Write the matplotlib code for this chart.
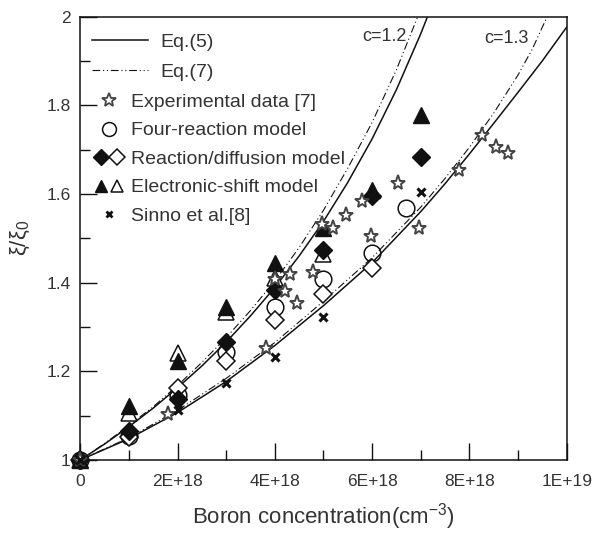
import matplotlib
matplotlib.use("Agg")
import matplotlib.pyplot as plt
from matplotlib.ticker import MultipleLocator, FuncFormatter
from matplotlib.legend_handler import HandlerTuple
from matplotlib.lines import Line2D

plt.rcParams['font.family'] = ['Liberation Sans', 'DejaVu Sans']
plt.rcParams['mathtext.default'] = 'regular'

E18 = 1e18
INK = '#111111'
TXT = '#333333'
STAR = '#444444'

# model curves (x in units of 1E18 cm^-3)
eq5_c12_x = [0, 0.5, 1, 1.5, 2, 2.5, 3, 3.5, 4, 4.5, 5, 5.5, 6, 6.5, 7, 7.14]
eq5_c12_y = [1.0, 1.036, 1.075, 1.117, 1.163, 1.212, 1.266, 1.325, 1.389, 1.460,
             1.538, 1.626, 1.724, 1.835, 1.961, 2.0]
eq7_c12_x = [0, 0.5, 1, 1.5, 2, 2.5, 3, 3.5, 4, 4.5, 5, 5.5, 6, 6.5, 6.94]
eq7_c12_y = [1.0, 1.037, 1.078, 1.120, 1.168, 1.220, 1.276, 1.337, 1.404, 1.479,
             1.563, 1.658, 1.761, 1.880, 2.0]
eq5_c13_x = [0, 1, 2, 3, 4, 5, 6, 7, 7.5, 8, 8.5, 9, 9.5, 10]
eq5_c13_y = [1.0, 1.048, 1.107, 1.177, 1.258, 1.348, 1.445, 1.560, 1.623, 1.690,
             1.759, 1.829, 1.900, 1.976]
eq7_c13_x = [0, 1, 2, 3, 4, 5, 6, 7, 7.5, 8, 8.5, 9, 9.3, 9.6]
eq7_c13_y = [1.0, 1.050, 1.112, 1.184, 1.265, 1.358, 1.456, 1.570, 1.635, 1.705,
             1.782, 1.868, 1.928, 2.0]

# experimental data [7]
exp_x = [0, 1.81, 3.81, 4.0, 4.2, 4.31, 4.46, 4.79, 4.96, 5.2, 5.47, 5.8, 5.97,
         6.53, 6.96, 7.78, 8.26, 8.54, 8.79]
exp_y = [1.0, 1.103, 1.253, 1.408, 1.381, 1.42, 1.353, 1.424, 1.533, 1.522, 1.552,
         1.584, 1.505, 1.625, 1.524, 1.654, 1.733, 1.706, 1.693]

# four-reaction model
four_x = [0, 1, 2, 3, 4, 5, 6, 6.69]
four_y = [1.0, 1.054, 1.146, 1.244, 1.345, 1.407, 1.466, 1.569]

# reaction/diffusion model (filled / open)
rd_fill_x = [0, 1, 2, 3, 4, 5, 6, 7]
rd_fill_y = [1.0, 1.066, 1.137, 1.266, 1.383, 1.474, 1.595, 1.683]
rd_open_x = [0, 1, 2, 3, 4, 5, 6]
rd_open_y = [1.0, 1.052, 1.162, 1.223, 1.315, 1.375, 1.432]

# electronic-shift model (filled / open)
es_fill_x = [0, 1, 2, 3, 4, 5, 6, 7]
es_fill_y = [1.0, 1.122, 1.223, 1.345, 1.444, 1.522, 1.608, 1.777]
es_open_x = [0, 1, 2, 3, 4, 5]
es_open_y = [1.0, 1.106, 1.242, 1.334, 1.41, 1.465]

# Sinno et al. [8]
sin_x = [0, 2, 3, 4, 5, 7]
sin_y = [1.0, 1.113, 1.174, 1.233, 1.323, 1.604]


def sc(v):
    return [a * E18 for a in v]


DASH = [7, 2.5, 1, 2.5, 1, 2.5]

fig = plt.figure(figsize=(5.99, 5.34), dpi=100)
ax = fig.add_axes([0.134, 0.1386, 0.812, 0.8305])

ax.plot(sc(eq5_c12_x), eq5_c12_y, '-', color=INK, lw=1.1)
ax.plot(sc(eq5_c13_x), eq5_c13_y, '-', color=INK, lw=1.1)
ax.plot(sc(eq7_c12_x), eq7_c12_y, color=INK, lw=0.8, dashes=DASH)
ax.plot(sc(eq7_c13_x), eq7_c13_y, color=INK, lw=0.8, dashes=DASH)

kw = dict(ls='none', clip_on=False, zorder=3)
ax.plot(sc(es_open_x), es_open_y, marker='^', ms=11, mfc='white', mec=INK, mew=1.1, **kw)
ax.plot(sc(es_fill_x), es_fill_y, marker='^', ms=11, mfc=INK, mec=INK, **kw)
ax.plot(sc(four_x), four_y, marker='o', ms=12, mfc='none', mec=INK, mew=1.1, **kw)
ax.plot(sc(rd_open_x), rd_open_y, marker='D', ms=9, mfc='white', mec=INK, mew=1.1, **kw)
ax.plot(sc(rd_fill_x), rd_fill_y, marker='D', ms=9, mfc=INK, mec=INK, **kw)
ax.plot(sc(exp_x), exp_y, marker='*', ms=11, mfc='white', mec=STAR, mew=1.4, **kw)
ax.plot(sc(sin_x), sin_y, marker='x', ms=6, mec=INK, mew=2.2, **kw)

ax.set_xlim(0, 1e19)
ax.set_ylim(1, 2)
ax.xaxis.set_major_locator(MultipleLocator(2e18))
ax.xaxis.set_minor_locator(MultipleLocator(1e18))
ax.yaxis.set_major_locator(MultipleLocator(0.2))
ax.yaxis.set_minor_locator(MultipleLocator(0.1))


def xfmt(v, pos):
    if v == 0:
        return '0'
    s = '%.0E' % v
    m, e = s.split('E')
    return '%sE+%d' % (m, int(e))


ax.xaxis.set_major_formatter(FuncFormatter(xfmt))
ax.yaxis.set_major_formatter(FuncFormatter(lambda v, p: '%g' % round(v, 2)))
ax.tick_params(which='both', direction='in', top=False, right=False,
               labelsize=12.5, labelcolor=TXT, color=INK, width=1)
ax.tick_params(which='major', length=12)
ax.tick_params(axis='x', which='major', pad=10)
ax.tick_params(axis='y', which='major', pad=7)
ax.tick_params(which='minor', length=7)
for s in ax.spines.values():
    s.set_linewidth(1.1)
    s.set_color(INK)

ax.set_xlabel('Boron concentration(cm$^{-3}$)', fontsize=16, color=TXT, labelpad=9)
ax.set_ylabel('ξ/ξ$_0$', fontsize=16, color=TXT, labelpad=10)

ax.text(5.8e18, 1.945, 'c=1.2', fontsize=13, color=TXT)
ax.text(8.3e18, 1.94, 'c=1.3', fontsize=13, color=TXT)

h_eq5 = Line2D([], [], color=INK, lw=1.1)
h_eq7 = Line2D([], [], color=INK, lw=0.8, dashes=DASH)
h_exp = Line2D([], [], ls='none', marker='*', ms=10, mfc='white', mec=STAR, mew=1.3)
h_four = Line2D([], [], ls='none', marker='o', ms=10, mfc='none', mec=INK, mew=1.1)
h_rdf = Line2D([], [], ls='none', marker='D', ms=8, mfc=INK, mec=INK)
h_rdo = Line2D([], [], ls='none', marker='D', ms=8, mfc='white', mec=INK, mew=1.1)
h_esf = Line2D([], [], ls='none', marker='^', ms=9, mfc=INK, mec=INK)
h_eso = Line2D([], [], ls='none', marker='^', ms=9, mfc='white', mec=INK, mew=1.1)
h_sin = Line2D([], [], ls='none', marker='x', ms=5, mec=INK, mew=2)

LFS = 14
leg1 = ax.legend([h_eq5, h_eq7], ['Eq.(5)', 'Eq.(7)'],
                 loc='upper left', bbox_to_anchor=(0.024, 0.962), frameon=False,
                 fontsize=LFS, handlelength=2.9, handletextpad=0.62,
                 labelspacing=0.64, borderaxespad=0, borderpad=0)
for t in leg1.get_texts():
    t.set_color(TXT)
ax.add_artist(leg1)

leg2 = ax.legend([h_exp, h_four, (h_rdf, h_rdo), (h_esf, h_eso), h_sin],
                 ['Experimental data [7]', 'Four-reaction model',
                  'Reaction/diffusion model', 'Electronic-shift model', 'Sinno et al.[8]'],
                 handler_map={tuple: HandlerTuple(ndivide=None, pad=0.2)},
                 loc='upper left', bbox_to_anchor=(0.03, 0.827), frameon=False,
                 fontsize=LFS, handlelength=1.44, handletextpad=0.41,
                 labelspacing=0.56, borderaxespad=0, borderpad=0)
for t in leg2.get_texts():
    t.set_color(TXT)

fig.savefig('out.png', dpi=100)
